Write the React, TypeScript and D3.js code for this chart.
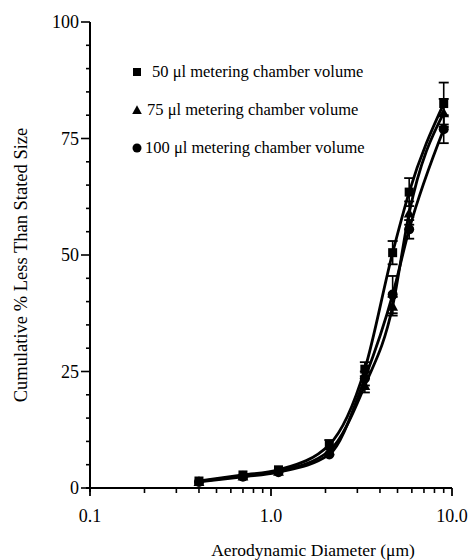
import React, { useEffect, useRef } from "react";
import * as d3 from "d3";

// Andersen stage cut-off diameters (um)
const sizes = [0.4, 0.7, 1.1, 2.1, 3.3, 4.7, 5.8, 9.0];

const vol50 = [1.5, 2.8, 3.9, 9.3, 25.5, 50.5, 63.5, 82.5];
const vol75 = [1.4, 2.6, 3.6, 8.0, 22.0, 39.0, 59.0, 80.5];
const vol100 = [1.3, 2.4, 3.4, 7.2, 23.5, 41.5, 55.5, 77.0];

const err50 = [0.3, 0.4, 0.5, 1.0, 1.5, 2.5, 3.0, 4.5];
const err75 = [0.3, 0.4, 0.5, 0.8, 1.5, 2.0, 2.5, 3.0];
const err100 = [0.3, 0.4, 0.5, 0.8, 1.5, 4.0, 2.0, 3.0];

const legendLabels = [
  "50 \u03bcl metering chamber volume",
  "75 \u03bcl metering chamber volume",
  "100 \u03bcl metering chamber volume",
];
const markerTypes = ["square", "triangle", "circle"];

const yTicks = [0, 25, 50, 75, 100];
const xTicks = [0.1, 1, 10];
const xTickLabels = ["0.1", "1.0", "10.0"];

const font = "'Liberation Serif', 'Times New Roman', serif";

export default function App() {
  const ref = useRef<SVGSVGElement>(null);

  useEffect(() => {
    const svg = d3.select(ref.current);
    svg.selectAll("*").remove();

    const x = d3.scaleLog().domain([0.1, 10]).range([90, 452]);
    const y = d3.scaleLinear().domain([0, 100]).range([488, 22]);

    const g = svg.append("g");

    // y axis
    g.append("line").attr("x1", x(0.1)).attr("x2", x(0.1)).attr("y1", y(100)).attr("y2", y(0) + 4)
      .attr("stroke", "#000").attr("stroke-width", 2);
    d3.range(0, 101, 5).forEach((v) => {
      const major = v % 25 === 0;
      g.append("line").attr("x1", x(0.1) - (major ? 9 : 4)).attr("x2", x(0.1))
        .attr("y1", y(v)).attr("y2", y(v)).attr("stroke", "#000").attr("stroke-width", 1.6);
    });
    yTicks.forEach((v) => {
      g.append("text").attr("x", x(0.1) - 11).attr("y", y(v) + 6).attr("text-anchor", "end")
        .style("font-family", font).style("font-size", "18px").text(v);
    });

    // x axis
    g.append("line").attr("x1", x(0.1) - 4).attr("x2", x(10)).attr("y1", y(0)).attr("y2", y(0))
      .attr("stroke", "#000").attr("stroke-width", 2);
    const minor: number[] = [];
    [0.1, 1].forEach((d) => { for (let k = 2; k <= 9; k++) minor.push(d * k); });
    minor.forEach((v) => {
      g.append("line").attr("x1", x(v)).attr("x2", x(v)).attr("y1", y(0)).attr("y2", y(0) + 5)
        .attr("stroke", "#000").attr("stroke-width", 1.6);
    });
    xTicks.forEach((v, i) => {
      g.append("line").attr("x1", x(v)).attr("x2", x(v)).attr("y1", y(0)).attr("y2", y(0) + 8)
        .attr("stroke", "#000").attr("stroke-width", 1.8);
      g.append("text").attr("x", x(v)).attr("y", y(0) + 34).attr("text-anchor", "middle")
        .style("font-family", font).style("font-size", "18px").text(xTickLabels[i]);
    });

    // axis titles
    g.append("text").attr("x", 313).attr("y", 556).attr("text-anchor", "middle")
      .style("font-family", font).style("font-size", "17.5px").text("Aerodynamic Diameter (\u03bcm)");
    g.append("text").attr("transform", `translate(27,265) rotate(-90)`).attr("text-anchor", "middle")
      .style("font-family", font).style("font-size", "18.5px").text("Cumulative % Less Than Stated Size");

    const series = [vol50, vol75, vol100];
    const errs = [err50, err75, err100];

    const line = d3.line<number>().x((_, i) => x(sizes[i])).y((d) => y(d)).curve(d3.curveMonotoneX);

    const drawMarker = (sel: any, type: string, cx: number, cy: number, s: number) => {
      if (type === "square") {
        sel.append("rect").attr("x", cx - s / 2).attr("y", cy - s / 2).attr("width", s).attr("height", s).attr("fill", "#000");
      } else if (type === "triangle") {
        sel.append("path").attr("d", `M${cx},${cy - s * 0.6}L${cx + s * 0.6},${cy + s * 0.5}L${cx - s * 0.6},${cy + s * 0.5}Z`).attr("fill", "#000");
      } else {
        sel.append("circle").attr("cx", cx).attr("cy", cy).attr("r", s / 2 + 0.5).attr("fill", "#000");
      }
    };

    series.forEach((vals, si) => {
      g.append("path").datum(vals).attr("d", line).attr("fill", "none").attr("stroke", "#000").attr("stroke-width", 2.8);
      const mg = g.append("g");
      vals.forEach((v, i) => {
        const cx = x(sizes[i]);
        const e = errs[si][i];
        if (e >= 1) {
          mg.append("line").attr("x1", cx).attr("x2", cx).attr("y1", y(v - e)).attr("y2", y(v + e))
            .attr("stroke", "#000").attr("stroke-width", 1.6);
          [v - e, v + e].forEach((c) => {
            mg.append("line").attr("x1", cx - 5).attr("x2", cx + 5).attr("y1", y(c)).attr("y2", y(c))
              .attr("stroke", "#000").attr("stroke-width", 1.8);
          });
        }
        drawMarker(mg, markerTypes[si], cx, y(v), 9);
      });
    });

    // legend
    legendLabels.forEach((lab, i) => {
      const ly = 72 + i * 38;
      const lg = g.append("g");
      drawMarker(lg, markerTypes[i], 137, ly, 8);
      lg.append("text").attr("x", i === 2 ? 145 : (i === 1 ? 147 : 152)).attr("y", ly + 5)
        .style("font-family", font).style("font-size", "16.5px").text(lab);
    });
  }, []);

  return (
    <svg ref={ref} width={472} height={560}
      style={{ position: "absolute", left: 0, top: 0, background: "#fff" }} />
  );
}
